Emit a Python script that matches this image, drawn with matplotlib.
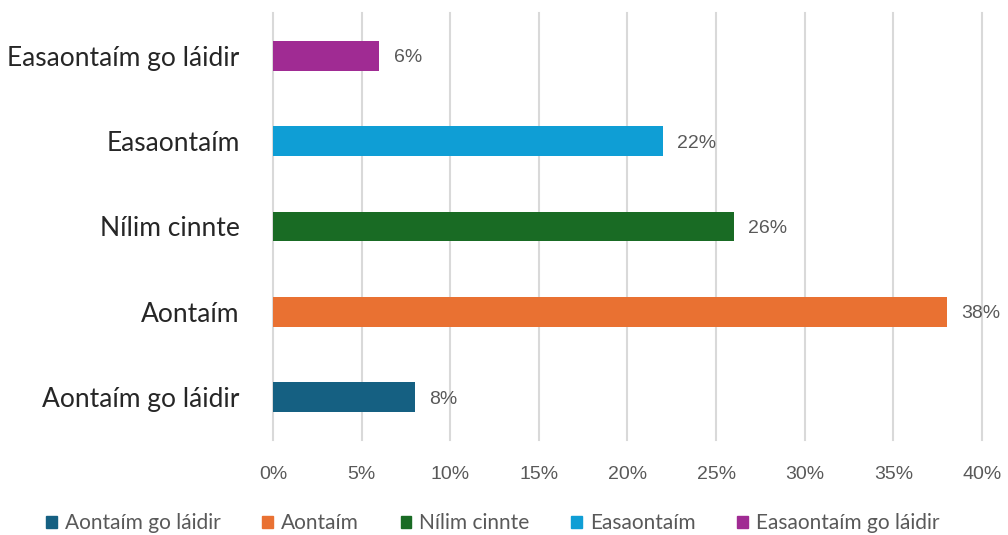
import matplotlib
matplotlib.use("Agg")
import matplotlib.pyplot as plt
from matplotlib.patches import Patch
from matplotlib.ticker import FuncFormatter

categories = ["Aontaím go láidir", "Aontaím", "Nílim cinnte", "Easaontaím", "Easaontaím go láidir"]
values = [8, 38, 26, 22, 6]
colors = ["#156082", "#E97132", "#196B24", "#0F9ED5", "#A02B93"]
xticks = [0, 5, 10, 15, 20, 25, 30, 35, 40]

text_color = "#595959"

fig = plt.figure(figsize=(10.08, 5.35), dpi=100)
ax = fig.add_axes([0.2708, 0.1776, 0.7034, 0.7981])

ypos = range(len(categories))
ax.barh(ypos, values, height=0.35, color=colors, zorder=3)

for y, v in zip(ypos, values):
    ax.text(v + 0.8, y, "{}%".format(v), va="center_baseline", ha="left",
            fontsize=14, color=text_color, family="Liberation Sans")

ax.set_xlim(0, 40)
ax.set_ylim(-0.5, 4.5)
ax.set_xticks(xticks)
ax.xaxis.set_major_formatter(FuncFormatter(lambda x, p: "{:.0f}%".format(x)))
ax.set_yticks(list(ypos))
ax.set_yticklabels(categories, fontsize=19, color="#262626", family="Lato")
for lbl in ax.get_xticklabels():
    lbl.set_fontsize(14)
    lbl.set_color(text_color)
    lbl.set_family("Liberation Sans")

ax.grid(axis="x", color="#d9d9d9", linewidth=1.5, zorder=0)
for gl in ax.get_xgridlines():
    gl.set_clip_on(False)
ax.tick_params(axis="both", length=0)
ax.tick_params(axis="x", pad=19)
ax.tick_params(axis="y", pad=24)
for s in ax.spines.values():
    s.set_visible(False)

handles = [Patch(color=c, label=n) for c, n in zip(colors, categories)]
fig.legend(handles=handles, loc="center", bbox_to_anchor=(0.489, 0.022), ncol=5,
           frameon=False, prop={"family": "Lato", "size": 15},
           handlelength=0.5, handleheight=0.5,
           handletextpad=0.4, columnspacing=2.0, labelcolor=text_color)

fig.savefig("out.png", dpi=100)
